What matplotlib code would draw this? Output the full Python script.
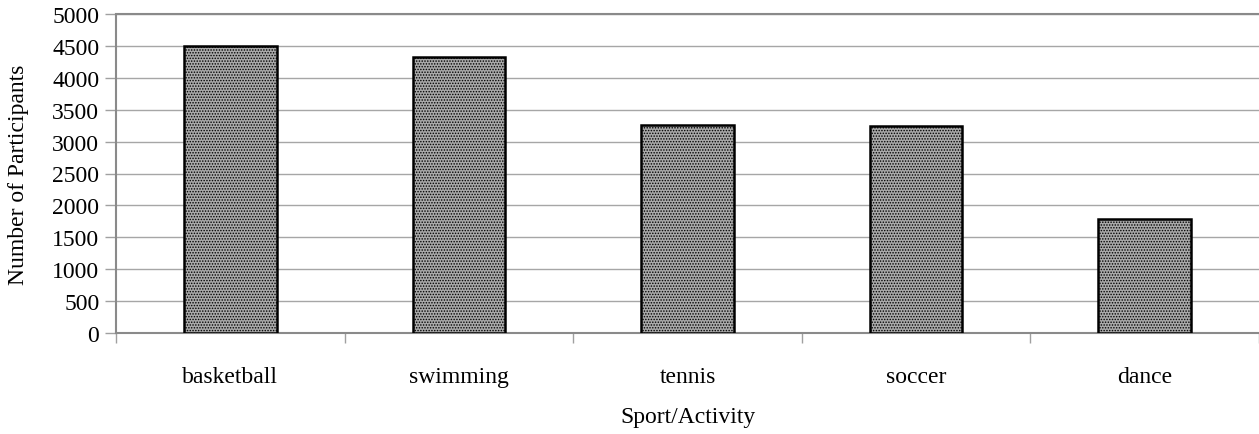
import matplotlib
matplotlib.use("Agg")
import matplotlib.pyplot as plt
import numpy as np

categories = ["basketball", "swimming", "tennis", "soccer", "dance"]
participants = [4500, 4330, 3260, 3240, 1785]
y_ticks = list(range(0, 5001, 500))

plt.rcParams['font.family'] = ['Liberation Serif', 'DejaVu Serif']
plt.rcParams['hatch.linewidth'] = 0.7

fig = plt.figure(figsize=(12.59, 4.35), dpi=100)
ax = fig.add_axes([116 / 1259, 101 / 435, 1143 / 1259, 319 / 435])

x = np.arange(len(categories))
ax.bar(x, participants, width=0.405, color='#a9a9a9', edgecolor='black',
       linewidth=1.8, hatch='......', zorder=3)

ax.set_xlim(-0.5, len(categories) - 0.5)
ax.set_ylim(0, 5000)
ax.set_yticks(y_ticks)
ax.set_yticklabels([str(v) for v in y_ticks], fontsize=17)
ax.yaxis.grid(True, color='#a6a6a6', linewidth=1.0, zorder=0)
ax.set_axisbelow(True)

ax.set_xticks(x)
ax.set_xticklabels(categories, fontsize=17)
ax.tick_params(axis='x', length=0, pad=24)
ax.set_xticks(np.arange(len(categories) + 1) - 0.5, minor=True)
ax.tick_params(axis='x', which='minor', length=7, color='#a0a0a0', width=1)
ax.tick_params(axis='y', length=8, color='#a0a0a0', width=1, pad=4)

for side in ['top', 'left', 'bottom']:
    ax.spines[side].set_color('#8a8a8a')
    ax.spines[side].set_linestyle((0, (1, 1)))
    ax.spines[side].set_linewidth(1.5)
ax.spines['right'].set_visible(False)

ax.set_ylabel("Number of Participants", fontsize=17)
ax.yaxis.set_label_coords(-0.0761, 0.5)
ax.set_xlabel("Sport/Activity", fontsize=17)
ax.xaxis.set_label_coords(0.5, -0.229)

fig.savefig("out.png", dpi=100)
